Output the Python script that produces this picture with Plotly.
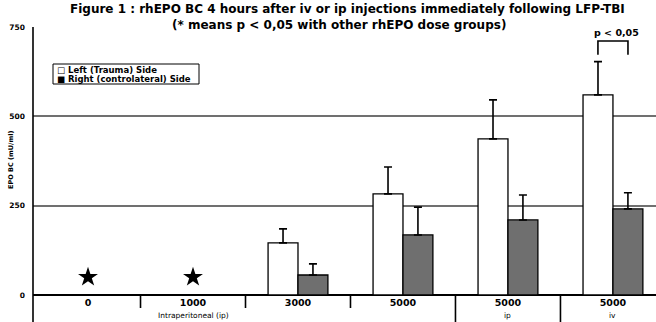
import plotly.graph_objects as go

# ---- data ----
categories = ["0", "1000", "3000", "5000", "5000", "5000"]
route_labels = ["Intraperitoneal (ip)", "ip", "iv"]
left_values = [None, None, 146, 283, 437, 560]
left_err = [None, None, 39, 75, 109, 93]
right_values = [None, None, 56, 168, 210, 241]
right_err = [None, None, 31, 78, 70, 45]
star_values = [50, 50]
y_ticks = [0, 250, 500, 750]
legend_labels = ["□ Left (Trauma) Side", "■ Right (controlateral) Side"]

W, H = 656, 322
S_LEFT, S_TOP, S_BASE = 33, 27, 295   # pixel positions of plot edges
ML, MT, MB, MR = S_LEFT, S_TOP, H - S_BASE, 0
FONT = "DejaVu Sans, Verdana, sans-serif"
x_idx = list(range(len(categories)))

fig = go.Figure()
fig.add_trace(go.Bar(
    x=x_idx, y=left_values, name="Left (Trauma) Side",
    marker=dict(color="white", line=dict(color="black", width=1.3)),
    error_y=dict(type="data", symmetric=False, array=left_err,
                 arrayminus=[0] * 6, color="black", thickness=1.6, width=4),
))
fig.add_trace(go.Bar(
    x=x_idx, y=right_values, name="Right (controlateral) Side",
    marker=dict(color="#6f6f6f", line=dict(color="black", width=1.3)),
    error_y=dict(type="data", symmetric=False, array=right_err,
                 arrayminus=[0] * 6, color="black", thickness=1.6, width=4),
))
fig.add_trace(go.Scatter(
    x=x_idx[:2], y=star_values, mode="markers",
    marker=dict(symbol="star", size=15, color="black"), showlegend=False,
))

plot_h = S_BASE - S_TOP
plot_w = W - MR - S_LEFT
def py(sy):  # pixel y -> paper y
    return (S_BASE - sy) / plot_h
def px(sx):  # pixel x -> paper x
    return (sx - S_LEFT) / plot_w

shapes = []
# y axis line extending to bottom
shapes.append(dict(type="line", xref="paper", yref="paper", x0=0, x1=0,
                   y0=py(H), y1=1, line=dict(color="black", width=1.6)))
# category separators
for i in range(len(categories) - 1):
    bottom = H if i >= 3 else 308
    shapes.append(dict(type="line", xref="x", yref="paper", x0=i + 0.5, x1=i + 0.5,
                       y0=py(bottom), y1=0, line=dict(color="black", width=1.6)))
# significance bracket over last group
b = len(categories) - 1
shapes.append(dict(type="path", xref="x", yref="y",
                   path=f"M {b-0.143},672 L {b-0.143},711 L {b+0.143},711 L {b+0.143},672",
                   line=dict(color="black", width=1.6)))
# legend box
shapes.append(dict(type="rect", xref="paper", yref="paper", x0=px(53), x1=px(199),
                   y0=py(84), y1=py(64), line=dict(color="black", width=1),
                   fillcolor="white"))

def ann(text, x, y, size, xref="paper", xanchor="center", angle=0):
    return dict(text=text, xref=xref, yref="paper", x=x, y=y, xanchor=xanchor,
                yanchor="middle", showarrow=False, textangle=angle,
                font=dict(family=FONT, size=size, color="black"))

annotations = [
    ann("<b>Figure 1 : rhEPO BC 4 hours after iv or ip injections immediately following LFP-TBI</b>",
        px(347), py(9.5), 12),
    ann("<b>(* means p &lt; 0,05 with other rhEPO dose groups)</b>", px(339), py(24.5), 12),
    ann("<b>p &lt; 0,05</b>", px(616), py(32), 9.5),
    ann("<b>EPO BC (mU/ml)</b>", px(11), py(160), 6.5, angle=-90),
    ann("<b>" + legend_labels[0] + "</b>", px(55), py(69.5), 8.5, xanchor="left"),
    ann("<b>" + legend_labels[1] + "</b>", px(55), py(78.5), 8.5, xanchor="left"),
    ann(route_labels[0], 1.0, py(315), 7.5, xref="x"),
    ann(route_labels[1], 4, py(315), 7.5, xref="x"),
    ann(route_labels[2], 5, py(315), 7.5, xref="x"),
]

fig.update_layout(
    template="none",
    width=W, height=H, margin=dict(l=ML, r=MR, t=MT, b=MB, autoexpand=False),
    plot_bgcolor="white", paper_bgcolor="white",
    barmode="group", bargap=0.43, bargroupgap=0,
    showlegend=False,
    font=dict(family=FONT, color="black"),
    xaxis=dict(range=[-0.524, 5.41], tickvals=x_idx, automargin=False,
               ticktext=["<b>" + c + "</b>" for c in categories],
               tickfont=dict(size=9.5), showgrid=False, zeroline=False, showline=False,
               ticks="", ticklabelstandoff=0),
    yaxis=dict(range=[0, 750], tickvals=y_ticks, automargin=False,
               ticktext=["<b>" + str(v) + "</b>" for v in y_ticks],
               tickfont=dict(size=7.5), showgrid=True, gridcolor="#707070", gridwidth=1.6,
               zeroline=True, zerolinecolor="black", zerolinewidth=1.6,
               showline=False, ticks="", ticklabelstandoff=7),
    shapes=shapes, annotations=annotations,
)

fig.write_html("out.html", config={"displayModeBar": False},
               post_script="document.body.style.margin='0';document.body.style.overflow='hidden';")
